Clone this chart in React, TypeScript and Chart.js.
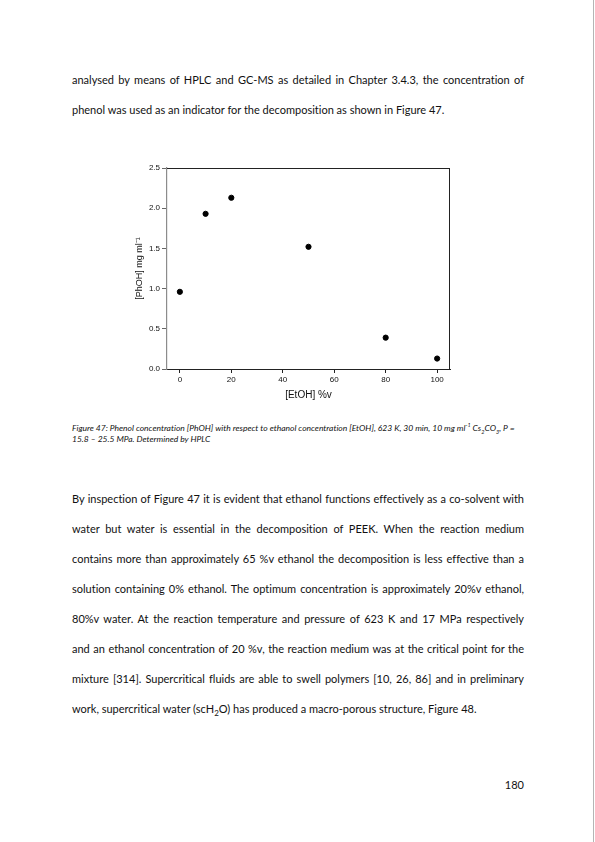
import { useEffect, useRef } from "react";
import Chart from "chart.js/auto";

// [EtOH] %v against [PhOH] mg ml-1
const ethanolPct = [0, 10, 20, 50, 80, 100];
const phenolConc = [0.96, 1.93, 2.13, 1.52, 0.39, 0.13];
const xTicks = [0, 20, 40, 60, 80, 100];
const yTicks = [0, 0.5, 1.0, 1.5, 2.0, 2.5];

const axisFont = "'Liberation Sans', Arial, sans-serif";
const textFont = "Lato, 'Noto Sans', sans-serif";

// top and right edges of the plot box
const framePlugin = {
  id: "frame",
  afterDraw(chart: any) {
    const { ctx, chartArea: a } = chart;
    ctx.save();
    ctx.strokeStyle = "#222";
    ctx.lineWidth = 1;
    ctx.beginPath();
    ctx.moveTo(a.left, Math.round(a.top) + 0.5);
    ctx.lineTo(a.right, Math.round(a.top) + 0.5);
    ctx.moveTo(Math.round(a.right) - 0.5, a.top);
    ctx.lineTo(Math.round(a.right) - 0.5, a.bottom);
    ctx.stroke();
    ctx.restore();
  },
};

function PhenolChart() {
  const canvasRef = useRef<HTMLCanvasElement>(null);

  useEffect(() => {
    const ctx = canvasRef.current?.getContext("2d");
    if (!ctx) return;

    const chart = new Chart(ctx, {
      type: "scatter",
      data: {
        datasets: [{
          data: ethanolPct.map((x, i) => ({ x, y: phenolConc[i] })),
          backgroundColor: "#000",
          borderColor: "#000",
          pointRadius: 2.6,
          pointHoverRadius: 2.6,
          showLine: false,
        }],
      },
      options: {
        animation: false,
        responsive: false,
        events: [],
        layout: { padding: { left: 0, right: 18, top: 13, bottom: 0 } },
        plugins: { legend: { display: false }, tooltip: { enabled: false } },
        scales: {
          x: {
            type: "linear",
            min: -5,
            max: 105,
            afterBuildTicks: (s: any) => { s.ticks = xTicks.map((value) => ({ value })); },
            afterFit: (s: any) => { s.height = 41; },
            border: { color: "#222", width: 1 },
            grid: { drawOnChartArea: false, drawTicks: true, tickLength: 4, color: "#222" },
            ticks: { color: "#111", font: { family: axisFont, size: 8 }, padding: 2, maxRotation: 0 },
            title: {
              display: true,
              text: "[EtOH] %v",
              color: "#111",
              font: { family: axisFont, size: 10 },
              padding: { top: 0, bottom: 9 },
            },
          },
          y: {
            type: "linear",
            min: 0,
            max: 2.5,
            afterBuildTicks: (s: any) => { s.ticks = yTicks.map((value) => ({ value })); },
            afterFit: (s: any) => { s.width = 39; },
            border: { color: "#8c8c8c", width: 1.2 },
            grid: { drawOnChartArea: false, drawTicks: true, tickLength: 5, color: "#666" },
            ticks: {
              color: "#111",
              font: { family: axisFont, size: 8 },
              padding: 2,
              callback: (v: any) => Number(v).toFixed(1),
            },
            title: {
              display: true,
              text: "[PhOH] mg ml\u207B\u00B9",
              color: "#111",
              font: { family: axisFont, size: 9 },
              padding: { top: 6, bottom: 0 },
            },
          },
        },
      },
      plugins: [framePlugin],
    });

    return () => chart.destroy();
  }, []);

  return <canvas ref={canvasRef} width={340} height={255} style={{ width: 340, height: 255 }} />;
}

function Line({ y, children, last, size = 11, left = 72, width = 452, italic = false }: any) {
  return (
    <div
      style={{
        position: "absolute",
        left,
        width,
        top: y - 8,
        height: 16,
        lineHeight: "16px",
        fontFamily: textFont,
        fontSize: size,
        fontStyle: italic ? "italic" : "normal",
        fontVariantLigatures: "none",
        color: "#111",
        textAlign: last ? "left" : "justify",
        textAlignLast: last ? "left" : "justify",
      }}
    >
      {children}
    </div>
  );
}

export default function App() {
  const body = [
    "By inspection of Figure 47 it is evident that ethanol functions effectively as a co-solvent with",
    "water but water is essential in the decomposition of PEEK. When the reaction medium",
    "contains more than approximately 65 %v ethanol the decomposition is less effective than a",
    "solution containing 0% ethanol. The optimum concentration is approximately 20%v ethanol,",
    "80%v water. At the reaction temperature and pressure of 623 K and 17 MPa respectively",
    "and an ethanol concentration of 20 %v, the reaction medium was at the critical point for the",
    "mixture [314]. Supercritical fluids are able to swell polymers [10, 26, 86] and in preliminary",
  ];

  return (
    <div style={{ position: "absolute", left: 0, top: 0, width: 595, height: 842, background: "#fff", overflow: "hidden" }}>
      <Line y={80}>analysed by means of HPLC and GC-MS as detailed in Chapter 3.4.3, the concentration of</Line>
      <Line y={110} last>phenol was used as an indicator for the decomposition as shown in Figure 47.</Line>

      <div style={{ position: "absolute", left: 128, top: 155 }}>
        <PhenolChart />
      </div>

      <Line y={428} size={8.5} italic last>
        Figure 47: Phenol concentration [PhOH] with respect to ethanol concentration [EtOH], 623 K, 30 min, 10 mg ml
        <sup style={{ fontSize: 5.5, lineHeight: 0 }}>-1</sup> Cs<sub style={{ fontSize: 5.5, lineHeight: 0 }}>2</sub>CO
        <sub style={{ fontSize: 5.5, lineHeight: 0 }}>3</sub>, P =
      </Line>
      <Line y={439} size={8.5} italic last>15.8 – 25.5 MPa. Determined by HPLC</Line>

      {body.map((t, i) => (
        <Line key={i} y={499 + i * 30}>{t}</Line>
      ))}
      <Line y={709} last>
        work, supercritical water (scH<sub style={{ fontSize: 8, lineHeight: 0 }}>2</sub>O) has produced a macro-porous structure, Figure 48.
      </Line>

      <div style={{ position: "absolute", left: 490, width: 34, top: 777, lineHeight: "16px", textAlign: "right", fontFamily: textFont, fontSize: 11, color: "#111" }}>
        180
      </div>

      <div style={{ position: "absolute", left: 593, top: 0, width: 1, height: 842, background: "#b5b5b5" }} />
    </div>
  );
}
